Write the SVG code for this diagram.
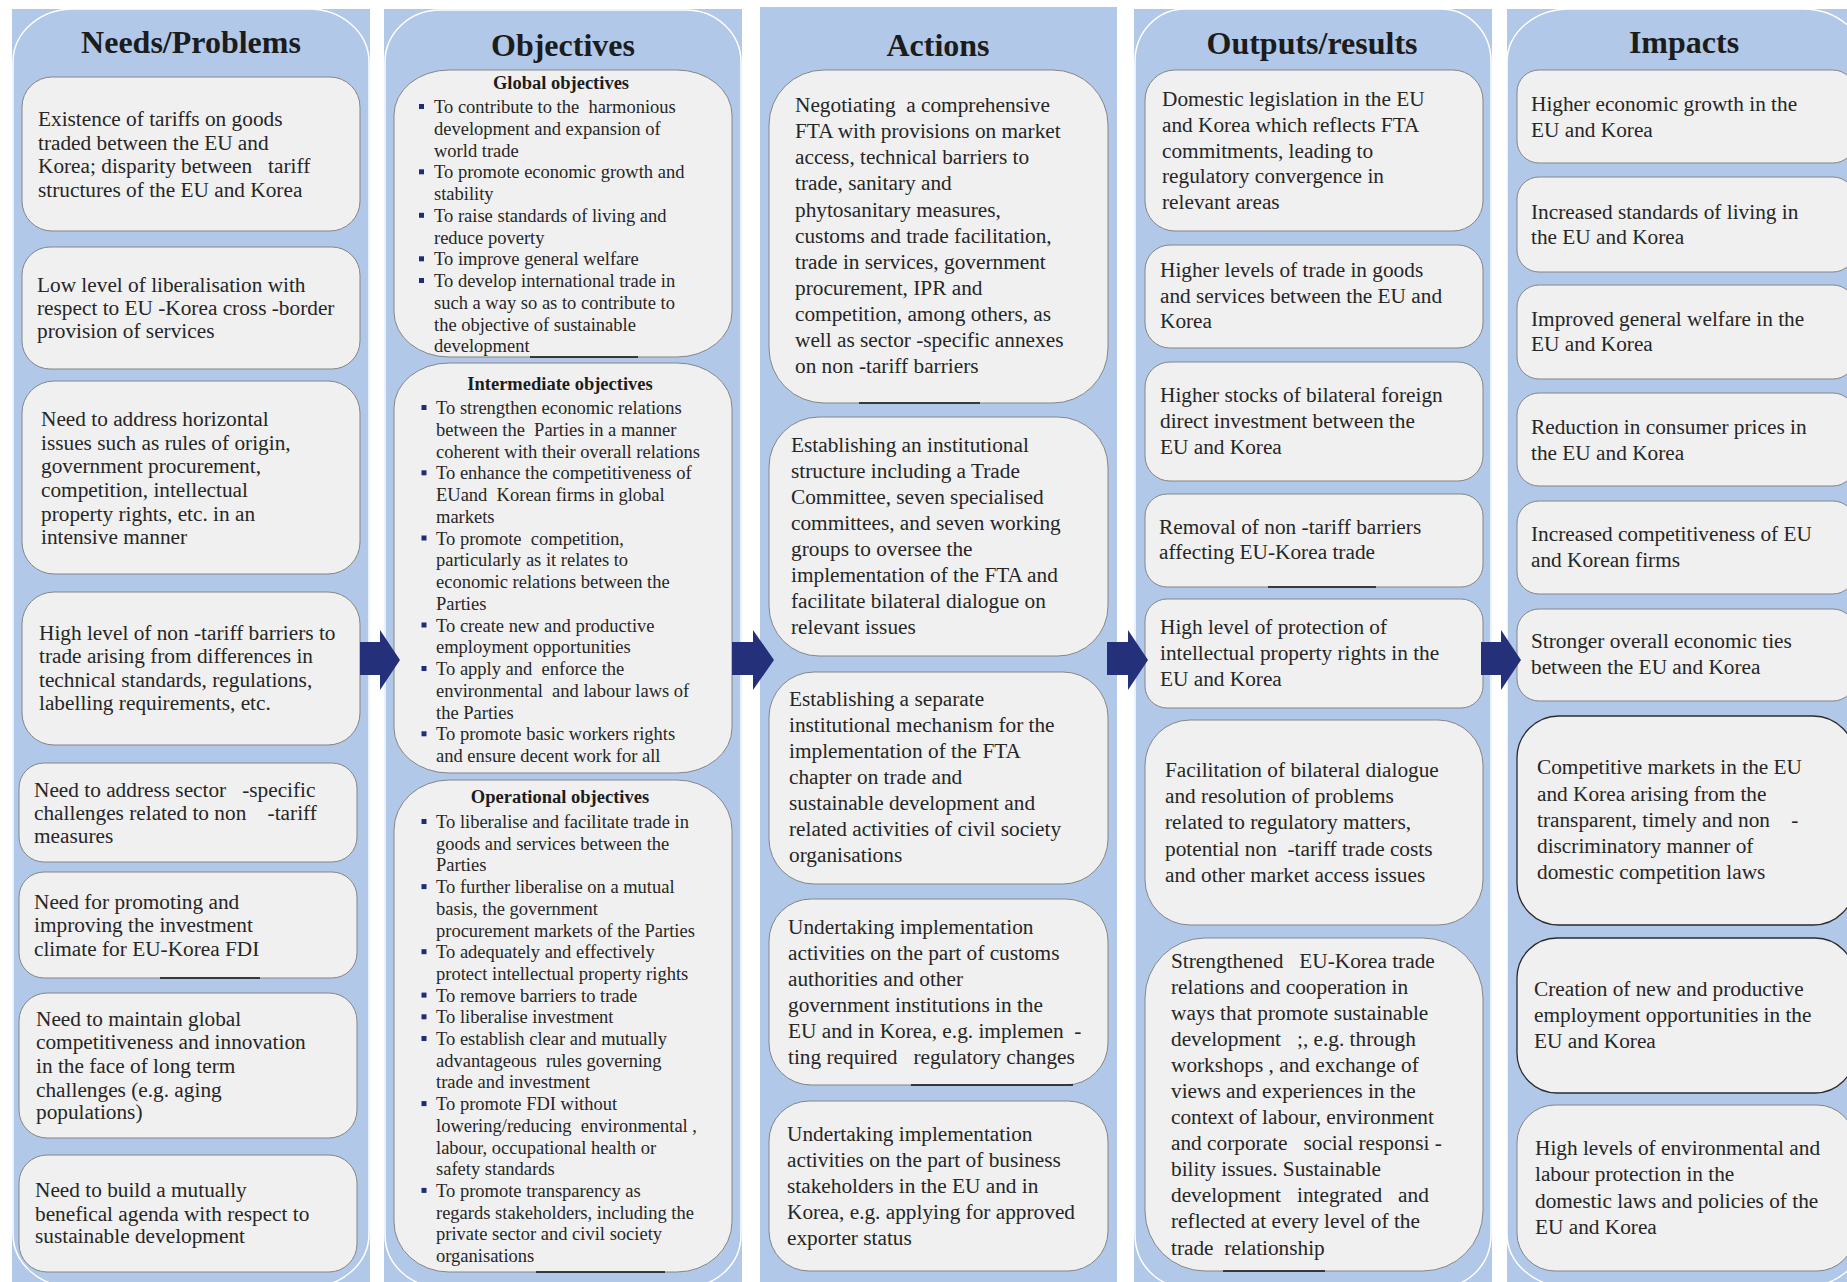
<svg xmlns="http://www.w3.org/2000/svg" width="1847" height="1282" viewBox="0 0 1847 1282">
<style>
.col{fill:#B1C8E8}
.cl{fill:none;stroke:#ffffff;stroke-width:1.5}
.box{fill:#F0F0F0;stroke:#858585;stroke-width:1}
.boxd{fill:#F0F0F0;stroke:#2b2b2b;stroke-width:1.3}
.ttl{font-family:"Liberation Serif","Times New Roman",serif;font-weight:bold;font-size:32px;fill:#1c1c1c;text-anchor:middle}
.t{font-family:"Liberation Serif","Times New Roman",serif;font-size:21.3px;fill:#262626;white-space:pre}
.o{font-family:"Liberation Serif","Times New Roman",serif;font-size:18.5px;fill:#262626;white-space:pre}
.h{font-family:"Liberation Serif","Times New Roman",serif;font-size:18.5px;font-weight:bold;fill:#1c1c1c;text-anchor:middle}
.bul{fill:#1F2D78}
.arr{fill:#24317A}
.art{stroke:#111;stroke-width:1.6}
</style>
<rect width="1847" height="1282" fill="#ffffff"/>
<g id="columns">
<rect class="col" x="12" y="9" width="358" height="1280"/>
<rect class="cl" x="13" y="9" width="356" height="1278" rx="60" ry="53"/>
<rect class="col" x="384" y="9" width="358" height="1280"/>
<rect class="cl" x="385" y="10" width="356" height="1277" rx="55" ry="52"/>
<rect class="col" x="760" y="7" width="357" height="1282"/>
<rect class="col" x="1134" y="9" width="358" height="1280"/>
<rect class="cl" x="1135" y="9" width="356" height="1278" rx="50" ry="52"/>
<rect class="col" x="1507" y="9" width="360" height="1280"/>
<rect class="cl" x="1507" y="9" width="358" height="1278" rx="62" ry="53"/>
<text class="ttl" x="191" y="53">Needs/Problems</text>
<text class="ttl" x="563" y="56">Objectives</text>
<text class="ttl" x="938" y="56">Actions</text>
<text class="ttl" x="1312" y="54">Outputs/results</text>
<text class="ttl" x="1684" y="53">Impacts</text>
</g>
<g id="needs">
<g id="n1"><rect class="box" x="22" y="77" width="338" height="154" rx="30"/><text class="t"><tspan x="38" y="126">Existence of tariffs on goods</tspan><tspan x="38" y="149.5">traded between the EU and</tspan><tspan x="38" y="173">Korea; disparity between   tariff</tspan><tspan x="38" y="197">structures of the EU and Korea</tspan></text></g>
<g id="n2"><rect class="box" x="22" y="247" width="338" height="122" rx="28"/><text class="t"><tspan x="37" y="292">Low level of liberalisation with</tspan><tspan x="37" y="315">respect to EU -Korea cross -border</tspan><tspan x="37" y="338">provision of services</tspan></text></g>
<g id="n3"><rect class="box" x="22" y="381" width="338" height="193" rx="32"/><text class="t"><tspan x="41" y="426">Need to address horizontal</tspan><tspan x="41" y="450">issues such as rules of origin,</tspan><tspan x="41" y="473">government procurement,</tspan><tspan x="41" y="497">competition, intellectual</tspan><tspan x="41" y="521">property rights, etc. in an</tspan><tspan x="41" y="544">intensive manner</tspan></text></g>
<g id="n4"><rect class="box" x="22" y="592" width="338" height="153" rx="32"/><text class="t"><tspan x="39" y="640">High level of non -tariff barriers to</tspan><tspan x="39" y="663">trade arising from differences in</tspan><tspan x="39" y="687">technical standards, regulations,</tspan><tspan x="39" y="710">labelling requirements, etc.</tspan></text></g>
<g id="n5"><rect class="box" x="19" y="763" width="338" height="99" rx="25"/><text class="t"><tspan x="34" y="797">Need to address sector   -specific</tspan><tspan x="34" y="820">challenges related to non    -tariff</tspan><tspan x="34" y="843">measures</tspan></text></g>
<g id="n6"><rect class="box" x="19" y="872" width="338" height="106" rx="25"/><text class="t"><tspan x="34" y="909">Need for promoting and</tspan><tspan x="34" y="932">improving the investment</tspan><tspan x="34" y="956">climate for EU-Korea FDI</tspan></text></g>
<g id="n7"><rect class="box" x="19" y="993" width="338" height="145" rx="28"/><text class="t"><tspan x="36" y="1026">Need to maintain global</tspan><tspan x="36" y="1049">competitiveness and innovation</tspan><tspan x="36" y="1073">in the face of long term</tspan><tspan x="36" y="1097">challenges (e.g. aging</tspan><tspan x="36" y="1119">populations)</tspan></text></g>
<g id="n8"><rect class="box" x="19" y="1155" width="338" height="117" rx="28"/><text class="t"><tspan x="35" y="1197">Need to build a mutually</tspan><tspan x="35" y="1221">benefical agenda with respect to</tspan><tspan x="35" y="1243">sustainable development</tspan></text></g>
</g>
<g id="objectives">
<g id="obj-global"><rect class="box" x="394" y="70" width="338" height="287" rx="55" ry="45"/>
<text class="h" x="561" y="89">Global objectives</text>
<rect class="bul" x="419" y="104" width="5" height="5"/><rect class="bul" x="419" y="169.3" width="5" height="5"/><rect class="bul" x="419" y="212.8" width="5" height="5"/><rect class="bul" x="419" y="256.3" width="5" height="5"/><rect class="bul" x="419" y="278" width="5" height="5"/>
<text class="o"><tspan x="434" y="113">To contribute to the  harmonious</tspan><tspan x="434" y="134.8">development and expansion of</tspan><tspan x="434" y="156.5">world trade</tspan><tspan x="434" y="178.3">To promote economic growth and</tspan><tspan x="434" y="200">stability</tspan><tspan x="434" y="221.8">To raise standards of living and</tspan><tspan x="434" y="243.5">reduce poverty</tspan><tspan x="434" y="265.3">To improve general welfare</tspan><tspan x="434" y="287">To develop international trade in</tspan><tspan x="434" y="308.8">such a way so as to contribute to</tspan><tspan x="434" y="330.5">the objective of sustainable</tspan><tspan x="434" y="352.3">development</tspan></text></g>
<g id="obj-intermediate"><rect class="box" x="394" y="363" width="338" height="410" rx="55" ry="45"/>
<text class="h" x="560" y="390">Intermediate objectives</text>
<rect class="bul" x="421.5" y="405" width="5" height="5"/><rect class="bul" x="421.5" y="470.3" width="5" height="5"/><rect class="bul" x="421.5" y="535.5" width="5" height="5"/><rect class="bul" x="421.5" y="622.5" width="5" height="5"/><rect class="bul" x="421.5" y="666" width="5" height="5"/><rect class="bul" x="421.5" y="731.3" width="5" height="5"/>
<text class="o"><tspan x="436" y="414">To strengthen economic relations</tspan><tspan x="436" y="435.8">between the  Parties in a manner</tspan><tspan x="436" y="457.5">coherent with their overall relations</tspan><tspan x="436" y="479.3">To enhance the competitiveness of</tspan><tspan x="436" y="501">EUand  Korean firms in global</tspan><tspan x="436" y="522.8">markets</tspan><tspan x="436" y="544.5">To promote  competition,</tspan><tspan x="436" y="566.3">particularly as it relates to</tspan><tspan x="436" y="588">economic relations between the</tspan><tspan x="436" y="609.8">Parties</tspan><tspan x="436" y="631.5">To create new and productive</tspan><tspan x="436" y="653.3">employment opportunities</tspan><tspan x="436" y="675">To apply and  enforce the</tspan><tspan x="436" y="696.8">environmental  and labour laws of</tspan><tspan x="436" y="718.5">the Parties</tspan><tspan x="436" y="740.3">To promote basic workers rights</tspan><tspan x="436" y="762">and ensure decent work for all</tspan></text></g>
<g id="obj-operational"><rect class="box" x="394" y="780" width="338" height="492" rx="55" ry="50"/>
<text class="h" x="560" y="803">Operational objectives</text>
<rect class="bul" x="421.5" y="819" width="5" height="5"/><rect class="bul" x="421.5" y="884.1" width="5" height="5"/><rect class="bul" x="421.5" y="949.2" width="5" height="5"/><rect class="bul" x="421.5" y="992.6" width="5" height="5"/><rect class="bul" x="421.5" y="1014.3" width="5" height="5"/><rect class="bul" x="421.5" y="1036" width="5" height="5"/><rect class="bul" x="421.5" y="1101.1" width="5" height="5"/><rect class="bul" x="421.5" y="1187.9" width="5" height="5"/>
<text class="o"><tspan x="436" y="828">To liberalise and facilitate trade in</tspan><tspan x="436" y="849.7">goods and services between the</tspan><tspan x="436" y="871.4">Parties</tspan><tspan x="436" y="893.1">To further liberalise on a mutual</tspan><tspan x="436" y="914.8">basis, the government</tspan><tspan x="436" y="936.5">procurement markets of the Parties</tspan><tspan x="436" y="958.2">To adequately and effectively</tspan><tspan x="436" y="979.9">protect intellectual property rights</tspan><tspan x="436" y="1001.6">To remove barriers to trade</tspan><tspan x="436" y="1023.3">To liberalise investment</tspan><tspan x="436" y="1045">To establish clear and mutually</tspan><tspan x="436" y="1066.7">advantageous  rules governing</tspan><tspan x="436" y="1088.4">trade and investment</tspan><tspan x="436" y="1110.1">To promote FDI without</tspan><tspan x="436" y="1131.8">lowering/reducing  environmental ,</tspan><tspan x="436" y="1153.5">labour, occupational health or</tspan><tspan x="436" y="1175.2">safety standards</tspan><tspan x="436" y="1196.9">To promote transparency as</tspan><tspan x="436" y="1218.6">regards stakeholders, including the</tspan><tspan x="436" y="1240.3">private sector and civil society</tspan><tspan x="436" y="1262">organisations</tspan></text></g>
</g>
<g id="actions">
<g id="a1"><rect class="box" x="769" y="70" width="339" height="333" rx="55"/><text class="t"><tspan x="795" y="112">Negotiating  a comprehensive</tspan><tspan x="795" y="138">FTA with provisions on market</tspan><tspan x="795" y="164">access, technical barriers to</tspan><tspan x="795" y="190">trade, sanitary and</tspan><tspan x="795" y="216.5">phytosanitary measures,</tspan><tspan x="795" y="242.5">customs and trade facilitation,</tspan><tspan x="795" y="268.5">trade in services, government</tspan><tspan x="795" y="294.5">procurement, IPR and</tspan><tspan x="795" y="320.5">competition, among others, as</tspan><tspan x="795" y="346.5">well as sector -specific annexes</tspan><tspan x="795" y="372.5">on non -tariff barriers</tspan></text></g>
<g id="a2"><rect class="box" x="769" y="417" width="339" height="239" rx="50"/><text class="t"><tspan x="791" y="452">Establishing an institutional</tspan><tspan x="791" y="478">structure including a Trade</tspan><tspan x="791" y="504">Committee, seven specialised</tspan><tspan x="791" y="530">committees, and seven working</tspan><tspan x="791" y="556">groups to oversee the</tspan><tspan x="791" y="582">implementation of the FTA and</tspan><tspan x="791" y="608">facilitate bilateral dialogue on</tspan><tspan x="791" y="634">relevant issues</tspan></text></g>
<g id="a3"><rect class="box" x="769" y="672" width="339" height="212" rx="45"/><text class="t"><tspan x="789" y="706">Establishing a separate</tspan><tspan x="789" y="732">institutional mechanism for the</tspan><tspan x="789" y="758">implementation of the FTA</tspan><tspan x="789" y="784">chapter on trade and</tspan><tspan x="789" y="810">sustainable development and</tspan><tspan x="789" y="836">related activities of civil society</tspan><tspan x="789" y="862">organisations</tspan></text></g>
<g id="a4"><rect class="box" x="769" y="899" width="339" height="186" rx="42"/><text class="t"><tspan x="788" y="934">Undertaking implementation</tspan><tspan x="788" y="960">activities on the part of customs</tspan><tspan x="788" y="986">authorities and other</tspan><tspan x="788" y="1012">government institutions in the</tspan><tspan x="788" y="1038">EU and in Korea, e.g. implemen  -</tspan><tspan x="788" y="1064">ting required   regulatory changes</tspan></text></g>
<g id="a5"><rect class="box" x="769" y="1101" width="339" height="170" rx="40"/><text class="t"><tspan x="787" y="1141">Undertaking implementation</tspan><tspan x="787" y="1167">activities on the part of business</tspan><tspan x="787" y="1193">stakeholders in the EU and in</tspan><tspan x="787" y="1219">Korea, e.g. applying for approved</tspan><tspan x="787" y="1245">exporter status</tspan></text></g>
</g>
<g id="outputs">
<g id="o1"><rect class="box" x="1145" y="70" width="338" height="161" rx="30"/><text class="t"><tspan x="1162" y="106">Domestic legislation in the EU</tspan><tspan x="1162" y="131.5">and Korea which reflects FTA</tspan><tspan x="1162" y="157.5">commitments, leading to</tspan><tspan x="1162" y="183">regulatory convergence in</tspan><tspan x="1162" y="209">relevant areas</tspan></text></g>
<g id="o2"><rect class="box" x="1145" y="245" width="338" height="103" rx="25"/><text class="t"><tspan x="1160" y="277">Higher levels of trade in goods</tspan><tspan x="1160" y="302.5">and services between the EU and</tspan><tspan x="1160" y="328">Korea</tspan></text></g>
<g id="o3"><rect class="box" x="1145" y="362" width="338" height="119" rx="25"/><text class="t"><tspan x="1160" y="402">Higher stocks of bilateral foreign</tspan><tspan x="1160" y="428">direct investment between the</tspan><tspan x="1160" y="453.5">EU and Korea</tspan></text></g>
<g id="o4"><rect class="box" x="1145" y="494" width="338" height="93" rx="22"/><text class="t"><tspan x="1159" y="533.5">Removal of non -tariff barriers</tspan><tspan x="1159" y="559">affecting EU-Korea trade</tspan></text></g>
<g id="o5"><rect class="box" x="1145" y="599" width="338" height="109" rx="22"/><text class="t"><tspan x="1160" y="634">High level of protection of</tspan><tspan x="1160" y="660">intellectual property rights in the</tspan><tspan x="1160" y="686">EU and Korea</tspan></text></g>
<g id="o6"><rect class="box" x="1145" y="720" width="338" height="205" rx="45"/><text class="t"><tspan x="1165" y="777">Facilitation of bilateral dialogue</tspan><tspan x="1165" y="803">and resolution of problems</tspan><tspan x="1165" y="829">related to regulatory matters,</tspan><tspan x="1165" y="855.5">potential non  -tariff trade costs</tspan><tspan x="1165" y="881.5">and other market access issues</tspan></text></g>
<g id="o7"><rect class="box" x="1145" y="938" width="338" height="333" rx="60"/><text class="t"><tspan x="1171" y="967.5">Strengthened   EU-Korea trade</tspan><tspan x="1171" y="994">relations and cooperation in</tspan><tspan x="1171" y="1020">ways that promote sustainable</tspan><tspan x="1171" y="1046">development   ;, e.g. through</tspan><tspan x="1171" y="1072">workshops , and exchange of</tspan><tspan x="1171" y="1098">views and experiences in the</tspan><tspan x="1171" y="1124">context of labour, environment</tspan><tspan x="1171" y="1150">and corporate   social responsi -</tspan><tspan x="1171" y="1176">bility issues. Sustainable</tspan><tspan x="1171" y="1202">development   integrated   and</tspan><tspan x="1171" y="1228">reflected at every level of the</tspan><tspan x="1171" y="1255">trade  relationship</tspan></text></g>
</g>
<g id="impacts">
<g id="i1"><rect class="box" x="1517" y="70" width="338" height="93" rx="22"/><text class="t"><tspan x="1531" y="110.5">Higher economic growth in the</tspan><tspan x="1531" y="136.5">EU and Korea</tspan></text></g>
<g id="i2"><rect class="box" x="1517" y="177" width="338" height="95" rx="22"/><text class="t"><tspan x="1531" y="218.5">Increased standards of living in</tspan><tspan x="1531" y="244">the EU and Korea</tspan></text></g>
<g id="i3"><rect class="box" x="1517" y="285" width="338" height="94" rx="22"/><text class="t"><tspan x="1531" y="326">Improved general welfare in the</tspan><tspan x="1531" y="351">EU and Korea</tspan></text></g>
<g id="i4"><rect class="box" x="1517" y="393" width="338" height="93" rx="22"/><text class="t"><tspan x="1531" y="433.5">Reduction in consumer prices in</tspan><tspan x="1531" y="459.5">the EU and Korea</tspan></text></g>
<g id="i5"><rect class="box" x="1517" y="501" width="338" height="93" rx="22"/><text class="t"><tspan x="1531" y="541">Increased competitiveness of EU</tspan><tspan x="1531" y="566.5">and Korean firms</tspan></text></g>
<g id="i6"><rect class="box" x="1517" y="609" width="338" height="92" rx="22"/><text class="t"><tspan x="1531" y="648">Stronger overall economic ties</tspan><tspan x="1531" y="674">between the EU and Korea</tspan></text></g>
<g id="i7"><rect class="boxd" x="1517" y="716" width="338" height="209" rx="42"/><text class="t"><tspan x="1537" y="774">Competitive markets in the EU</tspan><tspan x="1537" y="800.5">and Korea arising from the</tspan><tspan x="1537" y="826.5">transparent, timely and non    -</tspan><tspan x="1537" y="853">discriminatory manner of</tspan><tspan x="1537" y="879">domestic competition laws</tspan></text></g>
<g id="i8"><rect class="boxd" x="1517" y="938" width="338" height="155" rx="40"/><text class="t"><tspan x="1534" y="996">Creation of new and productive</tspan><tspan x="1534" y="1021.5">employment opportunities in the</tspan><tspan x="1534" y="1047.5">EU and Korea</tspan></text></g>
<g id="i9"><rect class="box" x="1517" y="1105" width="338" height="166" rx="38"/><text class="t"><tspan x="1535" y="1155">High levels of environmental and</tspan><tspan x="1535" y="1181">labour protection in the</tspan><tspan x="1535" y="1207.5">domestic laws and policies of the</tspan><tspan x="1535" y="1233.5">EU and Korea</tspan></text></g>
</g>
<g id="marks">
<line class="art" x1="160" y1="978" x2="260" y2="978"/>
<line class="art" x1="530" y1="357" x2="638" y2="357"/>
<line class="art" x1="536" y1="1272" x2="665" y2="1272"/>
<line class="art" x1="859" y1="403" x2="980" y2="403"/>
<line class="art" x1="911" y1="1085" x2="1073" y2="1085"/>
<line class="art" x1="1268" y1="587" x2="1376" y2="587"/>
<line class="art" x1="1223" y1="1271" x2="1325" y2="1271"/>
</g>
<g id="connectors">
<polygon class="arr" points="360,642 380,642 380,630 400,660 380,690 380,675 360,675"/>
<polygon class="arr" points="732,642 753,642 753,630 774,660 753,690 753,675 732,675"/>
<polygon class="arr" points="1107,642 1128,642 1128,630 1148,660 1128,690 1128,675 1107,675"/>
<polygon class="arr" points="1481,642 1501,642 1501,630 1521,660 1501,690 1501,675 1481,675"/>
</g>
</svg>
